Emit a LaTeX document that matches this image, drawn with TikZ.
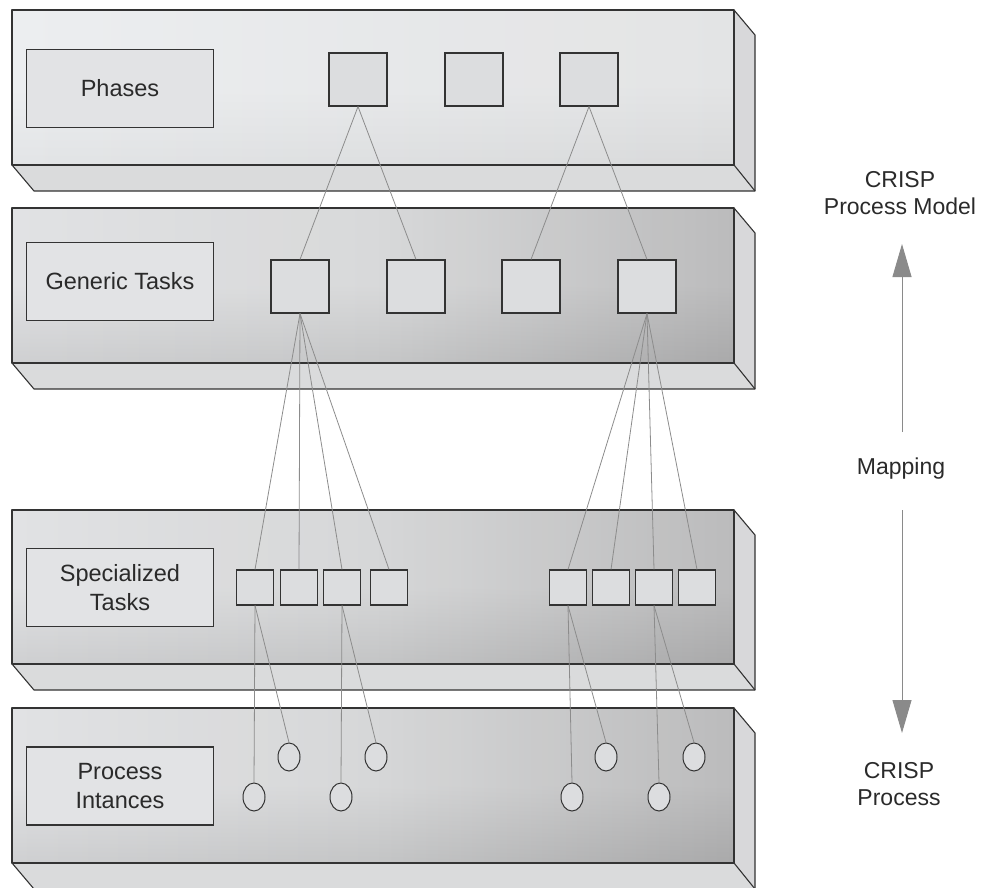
\documentclass[tikz,border=0pt]{standalone}
\usepackage{fontspec}
\setmainfont{Liberation Sans}
\usetikzlibrary{arrows.meta,shapes.geometric}
\definecolor{edge}{HTML}{333333}
\definecolor{conn}{HTML}{8C8C8C}
\definecolor{boxfill}{HTML}{E2E3E5}
\definecolor{sqfill}{HTML}{DCDDDF}
\definecolor{sidefill}{HTML}{D8D8DA}
\definecolor{botfill}{HTML}{DADBDC}
\definecolor{arrowc}{HTML}{8A8A8A}
\definecolor{inktext}{HTML}{2A2A2A}
\tikzset{
  labelbox/.style={draw=edge, line width=1.1pt, fill=boxfill, font=\fontsize{23.5}{29}\selectfont, text=inktext, align=center, inner sep=0pt, minimum width=187pt, minimum height=78pt},
  sqbox/.style={draw=edge, line width=1.1pt, fill=sqfill, inner sep=0pt},
  inst/.style={draw=edge, line width=1pt, fill=sqfill, ellipse, inner sep=0pt, minimum width=22pt, minimum height=28pt},
  link/.style={draw=conn, line width=0.8pt},
  sidetext/.style={font=\fontsize{23}{27.5}\selectfont, align=center, text=inktext, inner sep=0pt},
  maparrow/.style={draw=arrowc, line width=1pt, -{Triangle[width=19pt,length=33pt]}},
  faceline/.style={draw=edge, line width=1.1pt, line join=round}
}
\newcommand{\slab}[5]{%
  \fill[sidefill] (734,#2) -- (755,#2+25) -- (755,#3+26) -- (734,#3) -- cycle;
  \fill[botfill] (12,#3) -- (734,#3) -- (755,#3+26) -- (34,#3+26) -- cycle;
  \shade[#4] (12,#2) rectangle (734,#3);
  \shade[#5] (12,#2) rectangle (734,#3);
  \draw[faceline] (12,#3) -- (34,#3+26) -- (755,#3+26) -- (755,#2+25) -- (734,#2);
  \draw[faceline] (734,#3) -- (755,#3+26);
  \draw[faceline] (12,#2) rectangle (734,#3);
}
\begin{document}
\begin{tikzpicture}[x=1pt,y=-1pt]
\useasboundingbox (0,0) rectangle (982,888);
\begin{scope}
\clip (0,0) rectangle (982,888);
\slab{12}{10}{165}{left color={rgb,255:red,236;green,238;blue,240}, right color={rgb,255:red,226;green,227;blue,228}}{top color=white, bottom color=black, middle color=white, opacity=0.04}
\slab{12}{208}{363}{left color={rgb,255:red,222;green,223;blue,225}, right color={rgb,255:red,180;green,180;blue,181}, middle color={rgb,255:red,212;green,213;blue,214}}{top color=white, bottom color=black!70, middle color=white, opacity=0.1}
\slab{12}{510}{664}{left color={rgb,255:red,222;green,223;blue,225}, right color={rgb,255:red,180;green,180;blue,181}, middle color={rgb,255:red,210;green,211;blue,212}}{top color=white, bottom color=black!70, middle color=white, opacity=0.1}
\slab{12}{708}{863}{left color={rgb,255:red,222;green,223;blue,225}, right color={rgb,255:red,180;green,180;blue,181}, middle color={rgb,255:red,210;green,211;blue,212}}{top color=white, bottom color=black!70, middle color=white, opacity=0.1}
\end{scope}

% label boxes
\node[labelbox] (lph) at (120,88.5) {Phases};
\node[labelbox] (lgt) at (120,281.5) {Generic Tasks};
\node[labelbox] (lst) at (120,587.5) {Specialized\\Tasks};
\node[labelbox] (lpi) at (120,786) {Process\\Intances};

% phases squares
\foreach \n/\x in {1/358,2/474,3/589}
  \node[sqbox, minimum width=58pt, minimum height=53pt] (p\n) at (\x,79.5) {};
% generic task squares
\foreach \n/\x in {1/300,2/416,3/531,4/647}
  \node[sqbox, minimum width=58pt, minimum height=53pt] (g\n) at (\x,286.5) {};
% specialized task squares
\foreach \n/\x in {1/255,2/299,3/342,4/389,5/568,6/611,7/654,8/697}
  \node[sqbox, minimum width=37pt, minimum height=35pt] (s\n) at (\x,587.5) {};
% process instances
\node[inst] (i1) at (254,797) {};
\node[inst] (i2) at (289,757) {};
\node[inst] (i3) at (341,797) {};
\node[inst] (i4) at (376,757) {};
\node[inst] (i5) at (572,797) {};
\node[inst] (i6) at (606,757) {};
\node[inst] (i7) at (659,797) {};
\node[inst] (i8) at (694,757) {};

% connectors
\draw[link] (p1.south) -- (g1.north);
\draw[link] (p1.south) -- (g2.north);
\draw[link] (p3.south) -- (g3.north);
\draw[link] (p3.south) -- (g4.north);
\foreach \s in {1,2,3,4} \draw[link] (g1.south) -- (s\s.north);
\foreach \s in {5,6,7,8} \draw[link] (g4.south) -- (s\s.north);
\draw[link] (s1.south) -- (i1.north);
\draw[link] (s1.south) -- (i2.north);
\draw[link] (s3.south) -- (i3.north);
\draw[link] (s3.south) -- (i4.north);
\draw[link] (s5.south) -- (i5.north);
\draw[link] (s5.south) -- (i6.north);
\draw[link] (s7.south) -- (i7.north);
\draw[link] (s7.south) -- (i8.north);

% right side
\node[sidetext] (model) at (900,193) {CRISP\\Process Model};
\node[sidetext] (map) at (901,468.5) {Mapping};
\node[sidetext] (proc) at (899,784) {CRISP\\Process};
\coordinate (upstart) at (902,432);
\coordinate (uptip) at (902,244);
\coordinate (dnstart) at (902,510);
\coordinate (dntip) at (902,733);
\draw[maparrow] (upstart) -- (uptip);
\draw[maparrow] (dnstart) -- (dntip);
\end{tikzpicture}
\end{document}
